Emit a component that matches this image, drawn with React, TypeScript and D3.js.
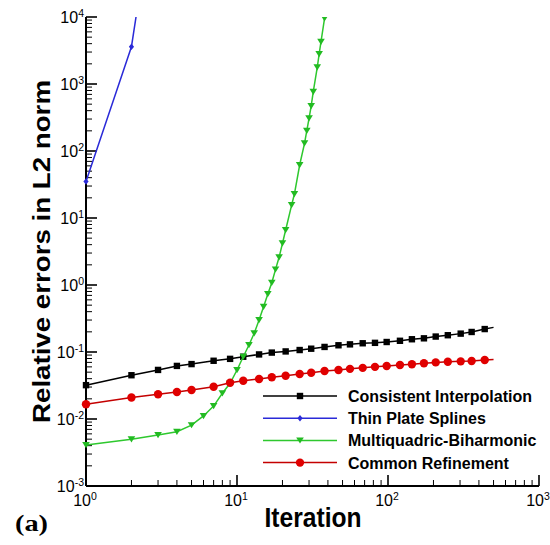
import React from 'react';
import * as d3 from 'd3';

// values (log-log plot)
const ciX = [1, 2, 3, 4, 5, 7, 9, 11, 14, 17, 21, 26, 31, 38, 47, 56, 68, 82, 98, 120, 144, 173, 207, 249, 303, 358, 437, 500];
const ciY = [0.032, 0.045, 0.054, 0.062, 0.066, 0.074, 0.079, 0.085, 0.092, 0.098, 0.102, 0.107, 0.112, 0.119, 0.126, 0.13, 0.135, 0.137, 0.141, 0.147, 0.155, 0.16, 0.17, 0.178, 0.188, 0.199, 0.22, 0.233];
const crY = [0.0166, 0.0209, 0.0234, 0.0253, 0.0271, 0.0303, 0.0348, 0.0373, 0.0396, 0.0419, 0.0443, 0.047, 0.049, 0.052, 0.054, 0.056, 0.058, 0.06, 0.0618, 0.064, 0.0655, 0.0678, 0.07, 0.0716, 0.0725, 0.0733, 0.076, 0.077];
const tpsX = [1, 2, 3];
const tpsY = [35, 3600, 1.4e6];
const mqX = [1, 2, 3, 4, 5, 6, 7, 8, 9, 10, 11, 12, 13, 14, 15, 16, 17, 18, 19, 20, 21, 23, 24, 26, 28, 29, 30, 31, 32, 34, 35, 36, 38];
const mqY = [0.00409, 0.00498, 0.00577, 0.00646, 0.0081, 0.0111, 0.0156, 0.0242, 0.0341, 0.0538, 0.0851, 0.127, 0.19, 0.301, 0.474, 0.734, 1.08, 1.71, 2.59, 4.19, 6.62, 15.6, 22.8, 61.8, 130, 201, 308, 470, 767, 1774, 2805, 4275, 9560];
const lastIter = 500; // run end, no symbol drawn there

const seriesNames = ['Consistent Interpolation', 'Thin Plate Splines', 'Multiquadric-Biharmonic', 'Common Refinement'];
const xDecades = [1, 10, 100, 1000];
const yDecades = [1e-3, 1e-2, 1e-1, 1, 10, 100, 1000, 1e4];

const left = 86, right = 539, top = 17, bottom = 486;

type Shape = 'square' | 'diamond' | 'triangle' | 'circle';

const Marker = ({ shape, cx, cy, color }: { shape: Shape; cx: number; cy: number; color: string }) => {
  if (shape === 'square') return <rect x={cx - 3.2} y={cy - 3.2} width={6.4} height={6.4} fill={color} />;
  if (shape === 'circle') return <circle cx={cx} cy={cy} r={4.2} fill={color} />;
  if (shape === 'diamond') return <path d={`M${cx},${cy - 3.2}L${cx + 2.6},${cy}L${cx},${cy + 3.2}L${cx - 2.6},${cy}Z`} fill={color} />;
  return <path d={`M${cx - 3.8},${cy - 3}L${cx + 3.8},${cy - 3}L${cx},${cy + 3.2}Z`} fill={color} />;
};

export default function App() {
  const x = d3.scaleLog().domain([1, 1000]).range([left, right]);
  const y = d3.scaleLog().domain([1e-3, 1e4]).range([bottom, top]);
  const line = d3.line<[number, number]>().x(d => x(d[0])).y(d => y(d[1]));

  const series = [
    { name: seriesNames[0], xs: ciX, ys: ciY, color: '#000000', mark: '#000000', shape: 'square' as Shape },
    { name: seriesNames[1], xs: tpsX, ys: tpsY, color: '#2a2ad8', mark: '#2a2ad8', shape: 'diamond' as Shape },
    { name: seriesNames[2], xs: mqX, ys: mqY, color: '#2ec82e', mark: '#22bb22', shape: 'triangle' as Shape },
    { name: seriesNames[3], xs: ciX, ys: crY, color: '#c40000', mark: '#e00000', shape: 'circle' as Shape },
  ];

  const yTicks = y.ticks();
  const xTicks = x.ticks();
  const isMajor = (v: number) => Math.abs(Math.log10(v) - Math.round(Math.log10(v))) < 1e-9;

  return (
    <svg width={550} height={545} style={{ position: 'absolute', left: 0, top: 0, background: '#fff' }}
      fontFamily="'Liberation Sans', Arial, sans-serif">
      <defs>
        <clipPath id="plot"><rect x={left - 6} y={top} width={right - left + 8} height={bottom - top + 6} /></clipPath>
      </defs>

      {/* axes first, the symbols sit over them */}
      <line x1={left} x2={left} y1={top} y2={bottom} stroke="#000" strokeWidth={2} />
      <line x1={left} x2={right} y1={bottom} y2={bottom} stroke="#000" strokeWidth={2} />
      {yTicks.map((t, i) => (
        <line key={'yt' + i} x1={left} x2={left + (isMajor(t) ? 11 : 6)} y1={y(t)} y2={y(t)}
          stroke="#000" strokeWidth={isMajor(t) ? 1.6 : 1} />
      ))}
      {xTicks.map((t, i) => (
        <line key={'xt' + i} x1={x(t)} x2={x(t)} y1={bottom} y2={bottom - (isMajor(t) ? 11 : 6)}
          stroke="#000" strokeWidth={isMajor(t) ? 1.6 : 1} />
      ))}
      {yDecades.map(t => (
        <text key={'yl' + t} x={84} y={y(t) + 6} textAnchor="end" fontSize={16}>
          10<tspan dy={-6} fontSize={10.5}>{Math.round(Math.log10(t))}</tspan>
        </text>
      ))}
      {xDecades.map(t => (
        <text key={'xl' + t} x={x(t) - 1} y={506} textAnchor="middle" fontSize={16}>
          10<tspan dy={-6} fontSize={10.5}>{Math.round(Math.log10(t))}</tspan>
        </text>
      ))}

      <g clipPath="url(#plot)">
        {series.map(s => {
          const pts = s.xs.map((v, i) => [v, s.ys[i]] as [number, number]);
          return (
            <g key={s.name}>
              <path d={line(pts) || ''} fill="none" stroke={s.color} strokeWidth={1.5} />
              {pts.filter(p => p[0] < lastIter).map((p, i) => (
                <Marker key={i} shape={s.shape} cx={x(p[0])} cy={y(p[1])} color={s.mark} />
              ))}
            </g>
          );
        })}
      </g>

      <text x={313} y={527} textAnchor="middle" fontSize={27} fontWeight="bold"
        textLength={97} lengthAdjust="spacingAndGlyphs">Iteration</text>
      <text transform="translate(50,251.5) rotate(-90)" textAnchor="middle" fontSize={24} fontWeight="bold"
        textLength={343} lengthAdjust="spacingAndGlyphs">Relative errors in L2 norm</text>
      <text x={15} y={531} fontSize={24} fontWeight="bold" fontFamily="'Liberation Serif', 'Times New Roman', serif"
        textLength={33} lengthAdjust="spacingAndGlyphs">(a)</text>

      {/* legend */}
      {series.map((s, i) => {
        const ly = 396 + i * 22.2;
        return (
          <g key={'lg' + i}>
            <line x1={263} x2={337} y1={ly} y2={ly} stroke={s.color} strokeWidth={1.5} />
            <Marker shape={s.shape} cx={300} cy={ly} color={s.mark} />
            <text x={348} y={ly + 6} fontSize={16} fontWeight="bold">{s.name}</text>
          </g>
        );
      })}
    </svg>
  );
}
